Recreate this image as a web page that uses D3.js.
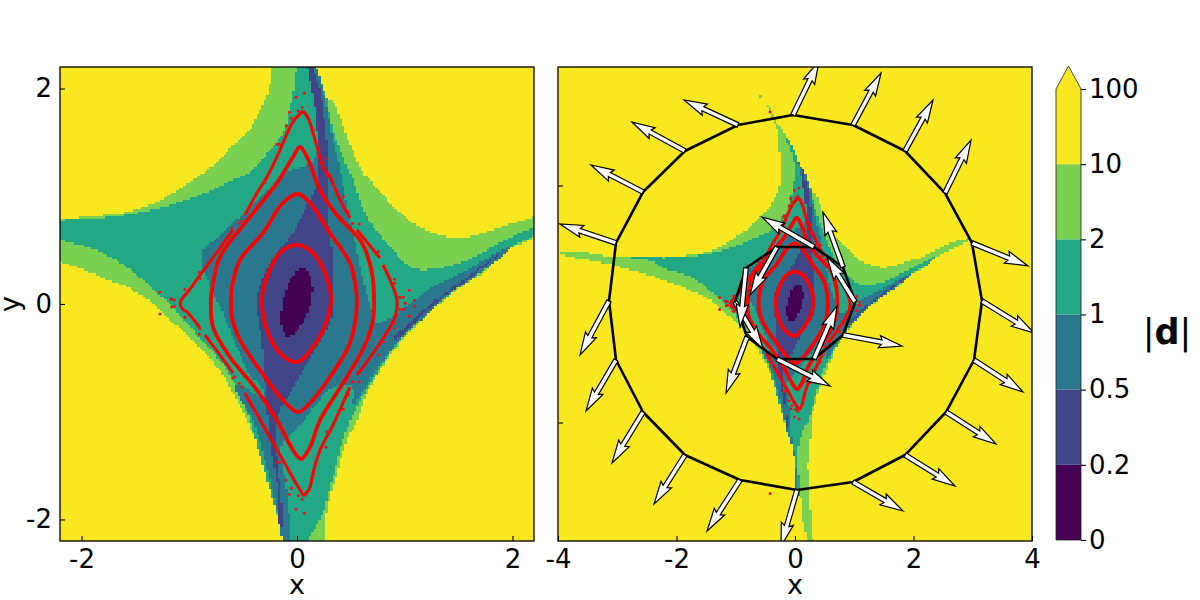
<!DOCTYPE html>
<html><head><meta charset="utf-8">
<script src="https://d3js.org/d3.v7.min.js"></script>
<style>
html,body{margin:0;padding:0;background:#fff}
svg{display:block}
text{font-family:"DejaVu Sans",sans-serif;fill:#000}
</style></head><body>
<svg id="fig" width="1200" height="600"></svg>
<script>
// ---------- level regions of |d| (data units) ----------
const levelColors = ["#440154","#414487","#2a788e","#22a884","#7ad151","#f9e720"];
const colorbarTicks = ["0","0.2","0.5","1","2","10","100"];
const regionBelow10 = [[-0.61,3.54],[-0.49,3.39],[-0.42,3.31],[-0.32,3.07],[-0.22,2.97],[-0.12,2.77],[0,2.55],[0.1,2.3],[0.186,2.17],[0.28,1.91],[0.334,1.876],[0.464,1.55],[0.613,1.216],[0.678,1.151],[0.864,0.938],[1.077,0.752],[1.328,0.641],[1.578,0.622],[1.885,0.715],[2.19,0.808],[2.4,0.93],[2.78,1.08],[3,1.13],[3.38,1.33],[3.17,1.21],[2.73,0.96],[2.33,0.75],[2.19,0.613],[1.95,0.5],[1.764,0.316],[1.578,0.195],[1.393,0.065],[1.17,-0.149],[0.956,-0.362],[0.77,-0.613],[0.613,-0.919],[0.557,-1.077],[0.464,-1.263],[0.353,-1.634],[0.279,-1.913],[0.269,-2.19],[0.22,-2.68],[0.253,-3.36],[0.3,-3.98],[0.3,-4.2],[0.186,-4.2],[0.186,-3.9],[0.135,-3.65],[0.12,-3.31],[0.03,-3.17],[0,-2.68],[-0.08,-2.3],[-0.13,-2.2],[-0.176,-2],[-0.223,-1.82],[-0.316,-1.42],[-0.436,-1.142],[-0.594,-0.826],[-0.743,-0.585],[-0.966,-0.334],[-1.18,-0.149],[-1.337,0.009],[-1.578,0.158],[-1.8,0.241],[-2.015,0.334],[-2.2,0.39],[-2.36,0.456],[-3.16,0.675],[-3.95,0.844],[-3.97,0.88],[-3.49,0.86],[-3.04,0.79],[-2.36,0.79],[-2.2,0.789],[-1.8,0.826],[-1.578,0.854],[-1.365,0.919],[-1.18,1.012],[-0.966,1.151],[-0.696,1.356],[-0.622,1.448],[-0.436,1.616],[-0.344,1.8],[-0.279,1.93],[-0.232,2.2],[-0.22,2.26],[-0.27,2.65],[-0.3,2.97],[-0.37,3.105],[-0.456,3.31],[-0.54,3.44]];
const regionBelow2 = [[-0.17,2.8],[-0.12,2.77],[0,2.55],[0.1,2.3],[0.186,2.17],[0.27,1.93],[0.279,1.894],[0.325,1.643],[0.464,1.272],[0.52,1.151],[0.65,0.808],[0.836,0.566],[1.077,0.334],[1.328,0.334],[1.578,0.409],[1.885,0.566],[2.19,0.715],[2.4,0.82],[2.19,0.63],[1.98,0.53],[1.79,0.36],[1.578,0.223],[1.356,0.037],[1.17,-0.121],[0.956,-0.334],[0.743,-0.641],[0.557,-0.956],[0.427,-1.263],[0.325,-1.634],[0.241,-1.94],[0.11,-2.19],[0.05,-2.5],[0.07,-3.17],[0.05,-3.25],[0.03,-3.17],[0,-2.68],[-0.08,-2.3],[-0.13,-2.2],[-0.158,-2.05],[-0.204,-1.885],[-0.279,-1.634],[-0.41,-1.17],[-0.436,-1.077],[-0.65,-0.613],[-0.9,-0.316],[-1.15,-0.037],[-1.43,0.223],[-1.71,0.427],[-1.95,0.53],[-2.2,0.6],[-2.41,0.72],[-2.82,0.79],[-2.2,0.78],[-2.015,0.789],[-1.736,0.808],[-1.43,0.854],[-1.114,0.937],[-0.836,1.04],[-0.594,1.151],[-0.436,1.226],[-0.25,1.43],[-0.13,1.59],[-0.037,1.96],[-0.01,2.2],[-0.05,2.55]];
const regionBelow1 = [[-0.125,2.77],[-0.02,2.55],[0.135,2.26],[0.176,2.2],[0.241,1.987],[0.288,1.755],[0.334,1.523],[0.38,1.337],[0.418,1.151],[0.464,0.9],[0.539,0.566],[0.613,0.223],[0.696,-0.056],[0.724,-0.176],[0.864,-0.13],[1.05,0.009],[1.263,0.158],[1.578,0.316],[1.95,0.52],[1.98,0.52],[1.95,0.483],[1.764,0.334],[1.578,0.204],[1.393,0.084],[1.17,-0.13],[0.956,-0.334],[0.79,-0.539],[0.678,-0.706],[0.604,-0.826],[0.52,-0.93],[0.52,-0.8],[0.492,-0.743],[0.334,-0.773],[0.186,-0.92],[0.093,-1.05],[-0.037,-1.2],[-0.14,-1.3],[-0.13,-1.51],[-0.084,-1.82],[-0.065,-2.19],[-0.017,-2.5],[0.05,-3.17],[0.03,-3.17],[0,-2.68],[-0.08,-2.3],[-0.13,-2.2],[-0.176,-1.96],[-0.297,-1.448],[-0.39,-1.124],[-0.576,-0.752],[-0.3,-0.87],[-0.36,-0.72],[-0.409,-0.706],[-0.557,-0.4],[-0.687,-0.084],[-0.808,0.176],[-0.882,0.39],[-0.882,0.474],[-0.836,0.529],[-0.594,0.752],[-0.344,0.984],[-0.186,1.151],[-0.13,1.216],[0.046,1.272],[0.149,1.337],[0.195,1.458],[0.167,1.8],[0.121,2.08],[0.093,2.2],[0.05,2.4],[-0.03,2.6]];
const regionBelow05 = [[0.195,1.133],[0.167,1.8],[0.102,2.2],[0.11,2.3],[0.15,2.26],[0.149,2.2],[0.214,1.98],[0.25,1.73],[0.279,1.458],[0.288,1.216],[0.279,0.938],[0.325,0.44],[0.334,0.037],[0.325,-0.121],[0.093,-0.55],[-0.065,-0.83],[-0.158,-0.985],[-0.204,-1.198],[-0.176,-1.52],[-0.14,-2.07],[-0.158,-2.07],[-0.176,-1.727],[-0.25,-1.29],[-0.279,-0.985],[-0.297,-0.73],[-0.325,-0.362],[-0.372,0.037],[-0.316,0.251],[-0.19,0.47],[-0.037,0.66],[0.121,0.966]];
const armSliver = [[0.892,-0.325],[1.05,-0.167],[1.263,0.019],[1.517,0.204],[1.95,0.52],[1.58,0.223],[1.356,0.065],[1.17,-0.102],[0.956,-0.306]];
const regionBelow02 = [[0.074,0.334],[0.139,0.195],[0.121,-0.028],[0.028,-0.214],[-0.084,-0.306],[-0.139,-0.214],[-0.139,-0.028],[-0.084,0.176],[0.009,0.316]];

// ---------- orbits: closed curves, broken outer curve, stray points ----------
const orbitA = [[0,0.548],[0.149,0.474],[0.26,0.288],[0.316,0.065],[0.279,-0.149],[0.149,-0.399],[0,-0.539],[-0.158,-0.455],[-0.279,-0.241],[-0.325,0.037],[-0.279,0.251],[-0.158,0.474]];
const orbitB = [[0.009,1.021],[0.121,0.938],[0.306,0.659],[0.492,0.381],[0.548,0.13],[0.557,-0.009],[0.492,-0.362],[0.306,-0.678],[0.121,-0.919],[0.009,-1.003],[-0.13,-0.891],[-0.344,-0.613],[-0.529,-0.334],[-0.604,-0.121],[-0.613,0.037],[-0.604,0.158],[-0.529,0.409],[-0.316,0.659],[-0.13,0.938]];
const orbitC = [[0.028,1.458],[0.093,1.365],[0.214,1.058],[0.371,0.826],[0.604,0.566],[0.696,0.288],[0.715,0.037],[0.706,-0.149],[0.631,-0.381],[0.446,-0.706],[0.214,-1.077],[0.121,-1.328],[0.037,-1.439],[-0.037,-1.356],[-0.186,-1.077],[-0.371,-0.799],[-0.622,-0.492],[-0.78,-0.214],[-0.799,0.037],[-0.789,0.13],[-0.715,0.436],[-0.436,0.808],[-0.186,1.124],[-0.037,1.365]];
const outerPieces = [
 [[0.056,1.792],[-0.037,1.69],[-0.13,1.495],[-0.186,1.365],[-0.279,1.179],[-0.371,1.031],[-0.483,0.826]],
 [[-0.594,0.687],[-0.761,0.455],[-0.9,0.269],[-1.021,0.102],[-1.06,0.06],[-1.085,0.009],[-1.06,-0.05],[-1.021,-0.074],[-0.9,-0.223]],
 [[-0.854,-0.288],[-0.715,-0.474],[-0.594,-0.641]],
 [[-0.483,-0.826],[-0.279,-1.188],[-0.13,-1.448],[0,-1.681],[0.065,-1.783]],
 [[0.065,-1.783],[0.121,-1.7],[0.149,-1.569],[0.214,-1.356],[0.325,-1.142],[0.492,-0.771]],
 [[0.557,-0.659],[0.771,-0.362],[0.91,-0.121],[0.928,0.037],[0.864,0.223],[0.799,0.362]],
 [[0.771,0.427],[0.557,0.687]],
 [[0.492,0.799],[0.399,0.966],[0.306,1.179],[0.241,1.272],[0.186,1.458],[0.102,1.727],[0.056,1.792]]
];
const strayPoints = [[-0.009,1.92],[0.068,1.956],[0.049,1.823],[0.012,1.792],[-0.071,1.78],[-0.053,1.724],[-0.099,1.653],[-0.188,1.483],[-0.164,1.483],[-0.297,1.126],[-0.374,1.037],[-0.513,0.773],[-0.536,0.749],[-0.6,0.703],[-0.907,0.294],[-0.9,0.238],[-1.04,0.136],[-1.272,0.109],[-1.17,0.049],[-1.272,-0.093],[-1.163,0.044],[-1.139,0.037],[-1.163,-0.028],[-1.139,-0.021],[-1.04,-0.124],[-0.907,-0.279],[-0.9,-0.232],[-0.669,-0.536],[-0.597,-0.69],[-0.576,-0.675],[-0.536,-0.736],[-0.513,-0.768],[-0.374,-1.015],[-0.297,-1.139],[-0.188,-1.34],[-0.188,-1.47],[-0.164,-1.47],[-0.102,-1.634],[-0.053,-1.711],[-0.071,-1.767],[0.012,-1.78],[0.049,-1.813],[0.114,-1.711],[-0.009,-1.906],[0.068,-1.943],[0.152,-1.594],[0.173,-1.464],[0.198,-1.402],[0.269,-1.33],[0.306,-1.186],[0.275,-1.186],[0.384,-0.994],[0.43,-0.978],[0.477,-0.845],[0.508,-0.721],[0.579,-0.721],[0.755,-0.474],[0.801,-0.35],[0.904,-0.226],[0.904,-0.179],[0.956,-0.049],[0.987,-0.049],[1.043,-0.111],[1.089,-0.019],[1.003,0.006],[0.384,1.012],[0.43,0.996],[0.477,0.857],[0.517,0.749],[0.579,0.743],[0.755,0.486],[0.904,0.229],[0.904,0.192],[0.956,0.062],[0.987,0.062],[1.043,0.127],[1.089,0.034],[1.089,-0.021],[1.006,0.006],[1.043,-0.114],[0.523,-0.721],[0.152,1.616],[0.183,1.476],[0.269,1.343],[0.306,1.198],[0.276,1.198],[-0.42,3.24],[-0.42,-3.2]];

// ---------- right panel: polygons and their displacement arrows ----------
const outerPolygon = [[-0.034,3.19],[0.979,3.021],[1.857,2.582],[2.532,1.873],[2.987,1.03],[3.156,0.051],[3.021,-0.945],[2.549,-1.823],[1.857,-2.549],[0.979,-3.004],[0.034,-3.139],[-0.928,-2.97],[-1.857,-2.549],[-2.565,-1.823],[-3.021,-0.945],[-3.139,0.051],[-3.021,1.03],[-2.565,1.89],[-1.857,2.582],[-0.962,3.021]];
const outerVectors = [[0.44,0.91],[0.473,0.878],[0.473,0.861],[0.439,0.895],[0.945,-0.388],[0.878,-0.54],[0.827,-0.54],[0.844,-0.54],[0.844,-0.523],[0.844,-0.489],[-0.27,-0.945],[-0.557,-0.861],[-0.523,-0.827],[-0.523,-0.861],[-0.506,-0.861],[-0.489,-0.911],[-0.945,0.32],[-0.878,0.456],[-0.895,0.489],[-0.911,0.422]];
const innerPolygon = [[-0.304,0.962],[0.321,0.962],[0.81,0.624],[1.013,0.034],[0.81,-0.523],[0.321,-0.928],[-0.304,-0.928],[-0.81,-0.557],[-1.013,0.034],[-0.827,0.608]];
const innerVectors = [[-0.456,-0.81],[-0.878,0.506],[-0.338,0.928],[-0.473,0.759],[0.996,-0.186],[0.388,0.895],[0.895,-0.456],[-0.354,-0.945],[0.473,-0.793],[-0.101,-0.996]];
const leftTicks = [-2,0,2];
const rightXTicks = [-4,-2,0,2,4];
const rightYTicks = [-2,2];
const gridCells = 200;

// ---------- layout ----------
const svg = d3.select("#fig");
const defs = svg.append("defs");
const top_ = 67, bottom_ = 541;
const panels = [
 {id:"L", x:d3.scaleLinear([-2.2,2.2],[60,534]), y:d3.scaleLinear([-2.2,2.2],[bottom_,top_])},
 {id:"R", x:d3.scaleLinear([-4,4],[558,1032]), y:d3.scaleLinear([-4,4],[bottom_,top_])}
];
const bands = [
 {pts:regionBelow10,c:levelColors[4]},
 {pts:regionBelow2,c:levelColors[3]},
 {pts:regionBelow1,c:levelColors[2]},
 {pts:regionBelow05,c:levelColors[1]},
 {pts:armSliver,c:levelColors[1]},
 {pts:regionBelow02,c:levelColors[0]}
];
// sample a smoothed outline, then fill the cells of the plot's regular grid that fall inside it
const probe = svg.append("path").attr("fill","none");
function griddedPath(pts,p){
 const [x0,x1]=p.x.range(), cw=(x1-x0)/gridCells, ch=(bottom_-top_)/gridCells;
 const d=d3.line().x(q=>p.x(q[0])).y(q=>p.y(q[1])).curve(d3.curveCatmullRomClosed.alpha(0.5))(pts);
 probe.attr("d",d);
 const node=probe.node(), L=node.getTotalLength(), n=Math.ceil(L/1.2), poly=[];
 for(let i=0;i<n;i++){const q=node.getPointAtLength(L*i/n);poly.push([q.x,q.y]);}
 let out="";
 for(let r=0;r<gridCells;r++){
  const yc=top_+(r+0.5)*ch, xs=[];
  for(let i=0;i<n;i++){
   const a=poly[i],b=poly[(i+1)%n];
   if((a[1]<=yc)!==(b[1]<=yc)) xs.push(a[0]+(yc-a[1])/(b[1]-a[1])*(b[0]-a[0]));
  }
  xs.sort((u,v)=>u-v);
  for(let k=0;k+1<xs.length;k+=2){
   const c0=Math.max(0,Math.ceil((xs[k]-x0)/cw-0.5)), c1=Math.min(gridCells-1,Math.floor((xs[k+1]-x0)/cw-0.5));
   if(c0<=c1) out+=`M${(x0+c0*cw).toFixed(2)},${(top_+r*ch).toFixed(2)}H${(x0+(c1+1)*cw).toFixed(2)}V${(top_+(r+1)*ch).toFixed(2)}H${(x0+c0*cw).toFixed(2)}Z`;
  }
 }
 return out;
}
panels.forEach(p=>{
 const [x0,x1]=p.x.range(), w=x1-x0, h=bottom_-top_;
 defs.append("clipPath").attr("id","clip"+p.id).append("rect").attr("x",x0).attr("y",top_).attr("width",w).attr("height",h);
 const g = svg.append("g").attr("clip-path",`url(#clip${p.id})`);
 g.append("rect").attr("x",x0).attr("y",top_).attr("width",w).attr("height",h).attr("fill",levelColors[5]);
 g.selectAll("path.band").data(bands).join("path").attr("class","band")
  .attr("d",b=>griddedPath(b.pts,p)).attr("fill",b=>b.c).attr("shape-rendering","crispEdges");
 const closed = d3.line().x(d=>p.x(d[0])).y(d=>p.y(d[1])).curve(d3.curveCatmullRomClosed.alpha(0.5));
 const open = d3.line().x(d=>p.x(d[0])).y(d=>p.y(d[1])).curve(d3.curveCatmullRom.alpha(0.5));
 g.selectAll("path.orbit").data([orbitA,orbitB,orbitC]).join("path").attr("class","orbit")
  .attr("d",closed).attr("fill","none").attr("stroke","#f00").attr("stroke-width",3.8);
 g.selectAll("path.piece").data(outerPieces).join("path").attr("class","piece")
  .attr("d",open).attr("fill","none").attr("stroke","#f00").attr("stroke-width",3);
 g.selectAll("circle.dot").data(strayPoints).join("circle").attr("class","dot")
  .attr("cx",d=>p.x(d[0])).attr("cy",d=>p.y(d[1])).attr("r",1.5).attr("fill","#e8141c");
 p.g=g;
});
probe.remove();

// right panel overlays
const R = panels[1];
const arrowPath = (a,b)=>{
 const ax=R.x(a[0]),ay=R.y(a[1]),bx=R.x(b[0]),by=R.y(b[1]);
 const L=Math.hypot(bx-ax,by-ay),ux=(bx-ax)/L,uy=(by-ay)/L,nx=-uy,ny=ux;
 const w=4.6,hl=5*w,hal=4.5*w,hw=1.35*w,sw=w/2;
 const P=(s,n)=>[ax+ux*s+nx*n,ay+uy*s+ny*n];
 return "M"+[P(0,sw),P(L-hal,sw),P(L-hl,hw),P(L,0),P(L-hl,-hw),P(L-hal,-sw),P(0,-sw)].map(q=>q.join(",")).join("L")+"Z";
};
[[outerPolygon,outerVectors],[innerPolygon,innerVectors]].forEach(([poly,vec])=>{
 R.g.append("path").attr("d",d3.line().x(d=>R.x(d[0])).y(d=>R.y(d[1])).curve(d3.curveLinearClosed)(poly))
  .attr("fill","none").attr("stroke","#000").attr("stroke-width",2.6).attr("stroke-linejoin","round");
 R.g.selectAll(null).data(poly.map((v,i)=>[v,[v[0]+vec[i][0],v[1]+vec[i][1]]])).join("path")
  .attr("d",d=>arrowPath(d[0],d[1])).attr("fill","#fff").attr("stroke","#000").attr("stroke-width",1.2).attr("stroke-linejoin","miter");
});

// axes
const fs=26;
function styleAxis(g){g.select(".domain").remove();g.selectAll("line").attr("stroke","#000").attr("stroke-width",1.1);g.selectAll("text").attr("font-size",fs).attr("fill","#000");}
const fmt=d=>String(d);
svg.append("g").attr("transform",`translate(0,${bottom_})`).call(d3.axisBottom(panels[0].x).tickValues(leftTicks).tickSize(-5).tickPadding(9).tickFormat(fmt)).call(styleAxis);
svg.append("g").attr("transform","translate(60,0)").call(d3.axisLeft(panels[0].y).tickValues(leftTicks).tickSize(-5).tickPadding(8).tickFormat(fmt)).call(styleAxis);
svg.append("g").attr("transform",`translate(0,${bottom_})`).call(d3.axisBottom(R.x).tickValues(rightXTicks).tickSize(-5).tickPadding(9).tickFormat(fmt)).call(styleAxis);
svg.append("g").attr("transform","translate(558,0)").call(d3.axisLeft(R.y).tickValues(rightYTicks).tickSize(-5).tickFormat("")).call(styleAxis);
panels.forEach(p=>{const [x0,x1]=p.x.range();
 svg.append("rect").attr("x",x0).attr("y",top_).attr("width",x1-x0).attr("height",bottom_-top_).attr("fill","none").attr("stroke","#000").attr("stroke-width",1.3);
 svg.append("text").attr("x",(x0+x1)/2).attr("y",594).attr("text-anchor","middle").attr("font-size",27).text("x");
});
svg.append("text").attr("transform","translate(19,304) rotate(-90)").attr("text-anchor","middle").attr("font-size",27).text("y");

// colorbar
const cbX0=1056,cbX1=1081;
const cbY=d3.scalePoint(colorbarTicks,[540,89]);
const cb=svg.append("g");
colorbarTicks.slice(0,-1).forEach((t,i)=>{
 cb.append("rect").attr("x",cbX0).attr("width",cbX1-cbX0).attr("y",cbY(colorbarTicks[i+1])).attr("height",cbY(t)-cbY(colorbarTicks[i+1])).attr("fill",levelColors[i]);
});
const cbTop=cbY("100");
const tri=[[cbX0,cbTop],[(cbX0+cbX1)/2,66],[cbX1,cbTop]];
cb.append("path").attr("d",d3.line()(tri)+"Z").attr("fill",levelColors[5]);
cb.append("path").attr("d",d3.line()([[cbX0,540],[cbX0,cbTop],tri[1],[cbX1,cbTop],[cbX1,540]])+"Z").attr("fill","none").attr("stroke","#222").attr("stroke-width",1).attr("stroke-opacity",0.8);
svg.append("g").attr("transform",`translate(${cbX1},0)`).call(d3.axisRight(cbY).tickSize(5).tickPadding(3)).call(styleAxis);
const lab=svg.append("text").attr("x",1167).attr("y",344).attr("text-anchor","middle").attr("font-size",35);
lab.append("tspan").text("|");lab.append("tspan").attr("font-weight","bold").text("d");lab.append("tspan").text("|");
</script>
</body></html>
